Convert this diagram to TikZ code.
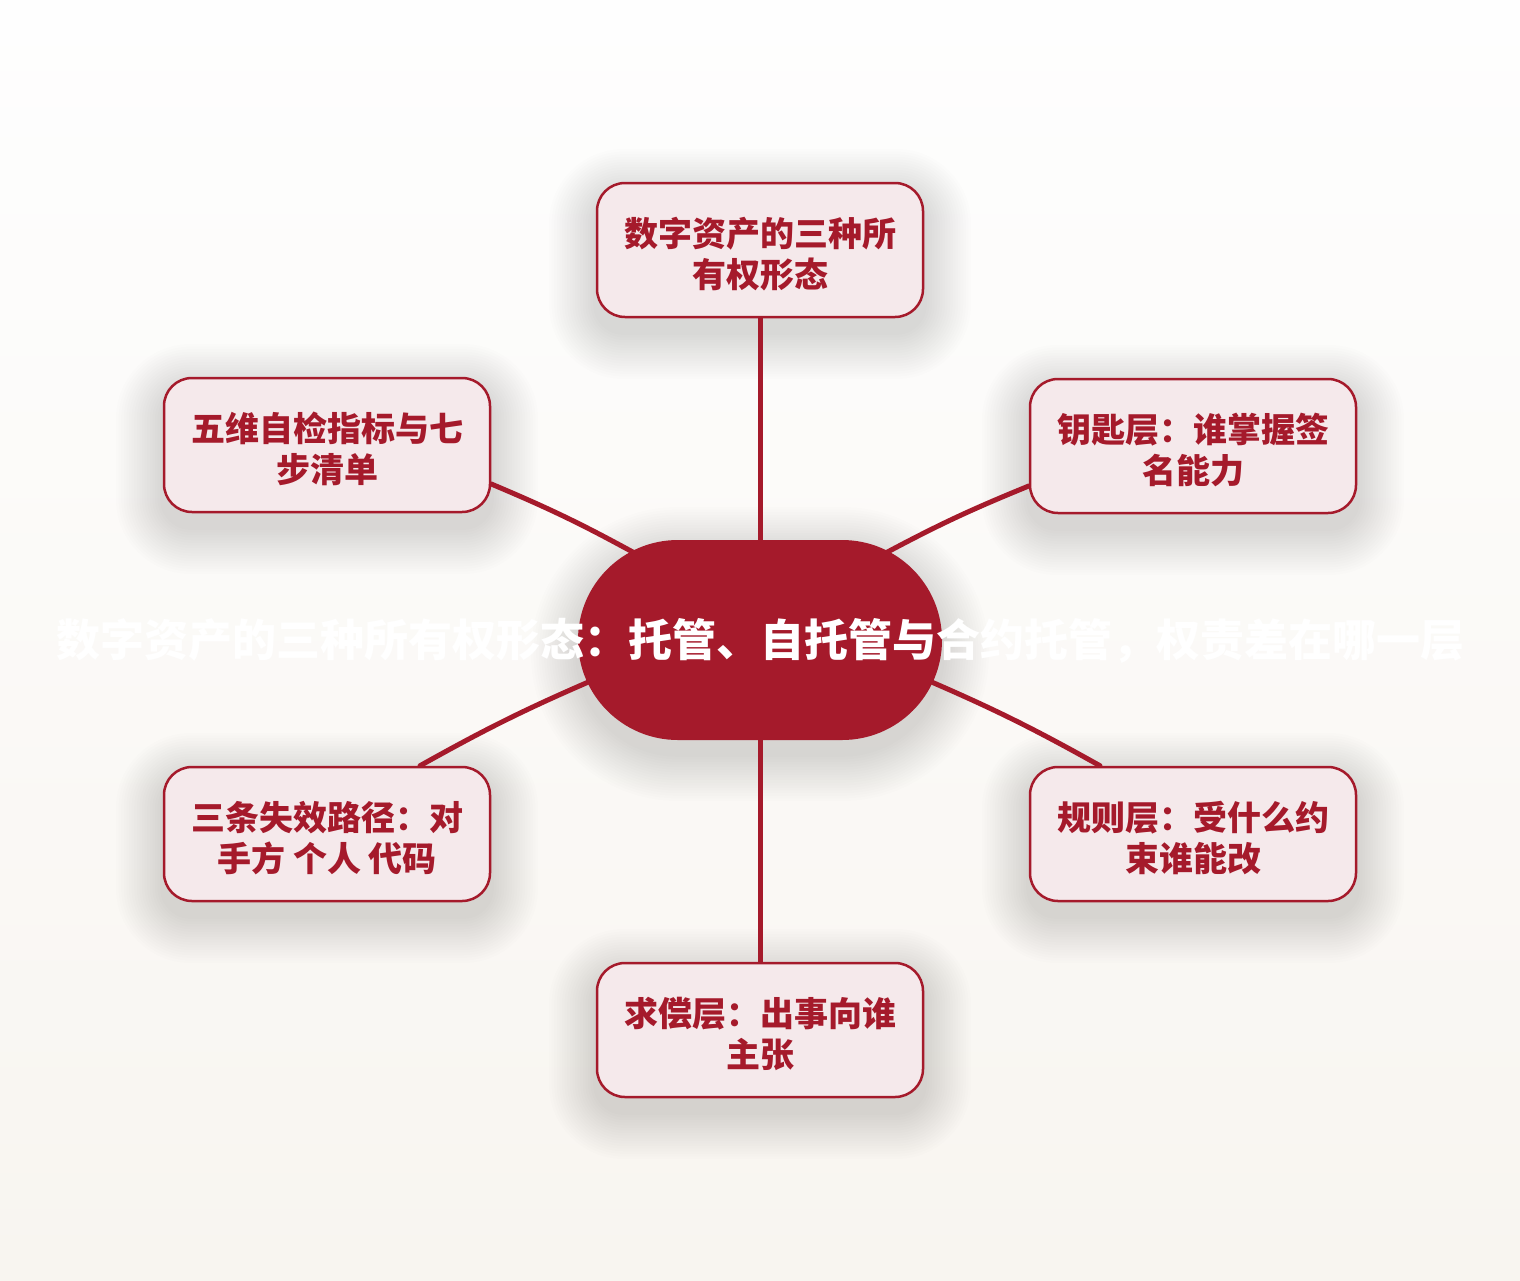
\documentclass[tikz,border=0pt]{standalone}
\usepackage{fontspec}
\setmainfont{Noto Sans CJK SC}
\usetikzlibrary{calc}
\definecolor{cred}{HTML}{A51A2B}
\definecolor{cfill}{HTML}{F5E9EB}
\definecolor{bgtop}{HTML}{FEFEFE}
\definecolor{bgbot}{HTML}{F8F5F0}
\pgfdeclarelayer{bglayer}
\pgfdeclarelayer{shadowlayer}
\pgfdeclarelayer{edgelayer}
\pgfsetlayers{bglayer,shadowlayer,edgelayer,main}
% soft shadow: #1 node name, #2 corner radius
\newcommand{\softshade}[2]{%
  \begin{pgfonlayer}{shadowlayer}
    \foreach \i in {1,...,18}{%
      \pgfmathsetmacro{\dd}{\i*2.6}%
      \fill[black,opacity=0.0068,rounded corners={#2+\dd}]
        ($(#1.south west)+(-\dd,\dd+14)$) rectangle ($(#1.north east)+(\dd,-\dd+14)$);
    }
  \end{pgfonlayer}}
\newcommand{\topstrut}{\rule{0pt}{37pt}}
\begin{document}
\begin{tikzpicture}[x=1pt,y=-1pt,
  leaf/.style={draw=cred,line width=2.5pt,fill=cfill,rounded corners=28pt,
    minimum width=326pt,minimum height=134pt,inner sep=0pt,align=center,
    text=cred,font=\fontsize{34pt}{41pt}\selectfont\bfseries},
  hub/.style={fill=cred,rounded corners=99.9pt,minimum width=364pt,minimum height=200pt,inner sep=0pt},
  hubtext/.style={text=white,font=\fontsize{44pt}{50pt}\selectfont\bfseries,inner sep=0pt},
  link/.style={draw=cred,line width=5pt,line cap=round}]
\useasboundingbox (0,0) rectangle (1520,1280);
\begin{pgfonlayer}{bglayer}
  \shade[top color=bgtop,bottom color=bgbot] (0,0) rectangle (1520,1280);
\end{pgfonlayer}

\node[hub] (c) at (760,640) {};
\node[hubtext] (ctext) at (760,641) {数字资产的三种所有权形态：托管、自托管与合约托管，权责差在哪一层};

\node[leaf] (t)  at (760,250) {\topstrut 数字资产的三种所\\有权形态};
\node[leaf] (tl) at (327,445) {\topstrut 五维自检指标与七\\步清单};
\node[leaf] (tr) at (1193,446) {\topstrut 钥匙层：谁掌握签\\名能力};
\node[leaf] (bl) at (327,834) {\topstrut 三条失效路径：对\\手方 个人 代码};
\node[leaf] (br) at (1193,834) {\topstrut 规则层：受什么约\\束谁能改};
\node[leaf] (b)  at (760,1030) {\topstrut 求偿层：出事向谁\\主张};

\softshade{c}{99.9}
\softshade{t}{28}
\softshade{tl}{28}
\softshade{tr}{28}
\softshade{bl}{28}
\softshade{br}{28}
\softshade{b}{28}

\begin{pgfonlayer}{edgelayer}
  \draw[link] (t.south) -- (c.north);
  \draw[link] (c.south) -- (b.north);
  \draw[link] ($(tl.east)+(0,39)$) to[bend left=3] ($(c.center)+(-120,-84)$);
  \draw[link] ($(tr.west)+(0,40)$) to[bend right=3] ($(c.center)+(120,-84)$);
  \draw[link] ($(bl.north)+(93,0)$) to[bend left=3] ($(c.center)+(-160,37)$);
  \draw[link] ($(br.north)+(-93,0)$) to[bend right=3] ($(c.center)+(160,37)$);
\end{pgfonlayer}
\end{tikzpicture}
\end{document}
